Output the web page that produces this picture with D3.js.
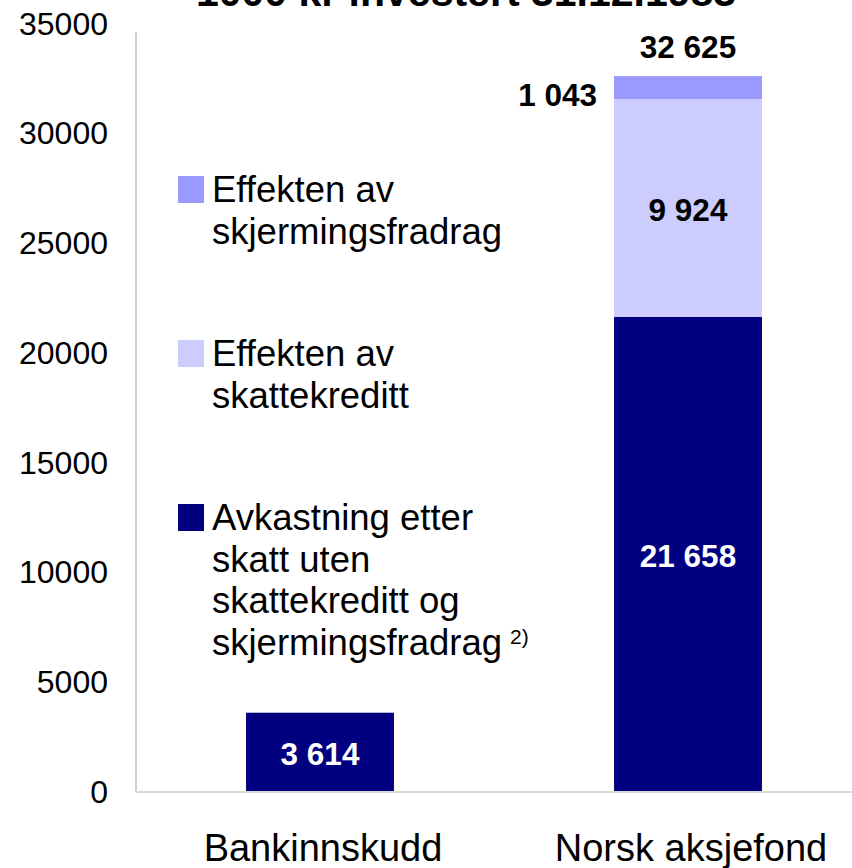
<!DOCTYPE html>
<html>
<head>
<meta charset="utf-8">
<script src="https://cdn.jsdelivr.net/npm/d3@7/dist/d3.min.js"></script>
<style>
  html, body { margin: 0; padding: 0; background: #ffffff; }
  svg { display: block; font-family: "Liberation Sans", Arial, Helvetica, sans-serif; }
</style>
</head>
<body>
<svg id="chart" width="852" height="868"></svg>
<script>
// ---- Data ----
const title = "1000 kr investert 31.12.1983";
const categories = ["Bankinnskudd", "Norsk aksjefond"];
const avkastning = [3614, 21658];      // Avkastning etter skatt uten skattekreditt og skjermingsfradrag
const skattekreditt = [0, 9924];       // Effekten av skattekreditt
const skjerming = [0, 1043];           // Effekten av skjermingsfradrag
const yTicks = [0, 5000, 10000, 15000, 20000, 25000, 30000, 35000];
const seriesKeys = ["avkastning", "skattekreditt", "skjerming"];
const seriesColors = ["#000080", "#CCCCFF", "#9999FF"];
const legendItems = [
  { key: "skjerming", lines: ["Effekten av", "skjermingsfradrag"], sup: "" },
  { key: "skattekreditt", lines: ["Effekten av", "skattekreditt"], sup: "" },
  { key: "avkastning", lines: ["Avkastning etter", "skatt uten", "skattekreditt og", "skjermingsfradrag"], sup: "2)" }
];

// ---- Setup ----
const svg = d3.select("#chart");
const W = 852, H = 868;
const x0 = 136, yBase = 792, yTop = 24;

const y = d3.scaleLinear().domain([0, 35000]).range([yBase, yTop]);
const x = d3.scaleBand().domain(categories).range([x0, 872]).paddingInner(0.598).paddingOuter(0.299);
const color = d3.scaleOrdinal().domain(seriesKeys).range(seriesColors);

const locale = d3.formatLocale({ decimal: ",", thousands: " ", grouping: [3], currency: ["", ""] });
const fmt = locale.format(",d");

const table = categories.map((c, i) => ({
  cat: c, avkastning: avkastning[i], skattekreditt: skattekreditt[i], skjerming: skjerming[i]
}));
const stacked = d3.stack().keys(seriesKeys)(table);

// Title (partially cut at top, as in reference)
svg.append("text")
  .attr("x", 466).attr("y", 6)
  .attr("text-anchor", "middle")
  .attr("font-size", 41).attr("font-weight", "bold")
  .attr("fill", "#000")
  .text(title);

// Y axis
const yAxis = svg.append("g").attr("transform", `translate(${x0},0)`)
  .call(d3.axisLeft(y).tickValues(yTicks).tickSize(0).tickPadding(28).tickFormat(d3.format("d")));
yAxis.select(".domain").remove();
yAxis.selectAll("text").attr("font-size", 32).attr("fill", "#000")
  .attr("font-family", "'Liberation Sans', Arial, sans-serif");
svg.append("line").attr("x1", x0).attr("x2", x0).attr("y1", 32).attr("y2", yBase)
  .attr("stroke", "#c0c0c0").attr("stroke-width", 1.5);

// Bars
const layers = svg.append("g").selectAll("g").data(stacked).join("g")
  .attr("fill", d => color(d.key));
layers.selectAll("rect").data(d => d.map(v => Object.assign(v, {key: d.key}))).join("rect")
  .attr("x", d => x(d.data.cat))
  .attr("width", x.bandwidth())
  .attr("y", d => y(d[1]))
  .attr("height", d => Math.max(0, y(d[0]) - y(d[1])));

// X baseline
svg.append("line").attr("x1", x0).attr("x2", W).attr("y1", yBase).attr("y2", yBase)
  .attr("stroke", "#d9d9d9").attr("stroke-width", 2);

// X category labels
svg.append("g").selectAll("text").data(categories).join("text")
  .attr("x", d => x(d) + x.bandwidth() / 2 + 3)
  .attr("y", 861)
  .attr("text-anchor", "middle")
  .attr("font-size", 38).attr("fill", "#000")
  .text(d => d);

// Data labels
const labelG = svg.append("g").attr("font-weight", "bold").attr("font-size", 31.5);
stacked.forEach(layer => {
  layer.forEach(seg => {
    const v = seg[1] - seg[0];
    if (v <= 0) return;
    const cx = x(seg.data.cat) + x.bandwidth() / 2;
    const cy = (y(seg[0]) + y(seg[1])) / 2;
    if (layer.key === "skjerming") {
      labelG.append("text")
        .attr("x", x(seg.data.cat) - 17).attr("y", cy + 18)
        .attr("text-anchor", "end").attr("fill", "#000")
        .text(fmt(v));
    } else {
      labelG.append("text")
        .attr("x", cx).attr("y", cy + 13)
        .attr("text-anchor", "middle")
        .attr("fill", layer.key === "avkastning" ? "#fff" : "#000")
        .text(fmt(v));
    }
  });
});
// Total label
table.forEach(d => {
  const tot = d.avkastning + d.skattekreditt + d.skjerming;
  if (d.skattekreditt + d.skjerming === 0) return;
  labelG.append("text")
    .attr("x", x(d.cat) + x.bandwidth() / 2).attr("y", y(tot) - 18)
    .attr("text-anchor", "middle").attr("fill", "#000")
    .text(fmt(tot));
});

// Legend
const legendTops = [202, 366, 530];
const lineH = 41.5;
const legend = svg.append("g");
legendItems.forEach((item, i) => {
  const g = legend.append("g");
  const by = legendTops[i];
  g.append("rect").attr("x", 178).attr("y", by - 26).attr("width", 26).attr("height", 27)
    .attr("fill", color(item.key));
  item.lines.forEach((ln, j) => {
    const t = g.append("text").attr("x", 212).attr("y", by + j * lineH)
      .attr("font-size", 36.5).attr("fill", "#000").text(ln);
    if (item.sup && j === item.lines.length - 1) {
      t.append("tspan").attr("dx", 8).attr("dy", -11).attr("font-size", 21).text(item.sup);
    }
  });
});
</script>
</body>
</html>
